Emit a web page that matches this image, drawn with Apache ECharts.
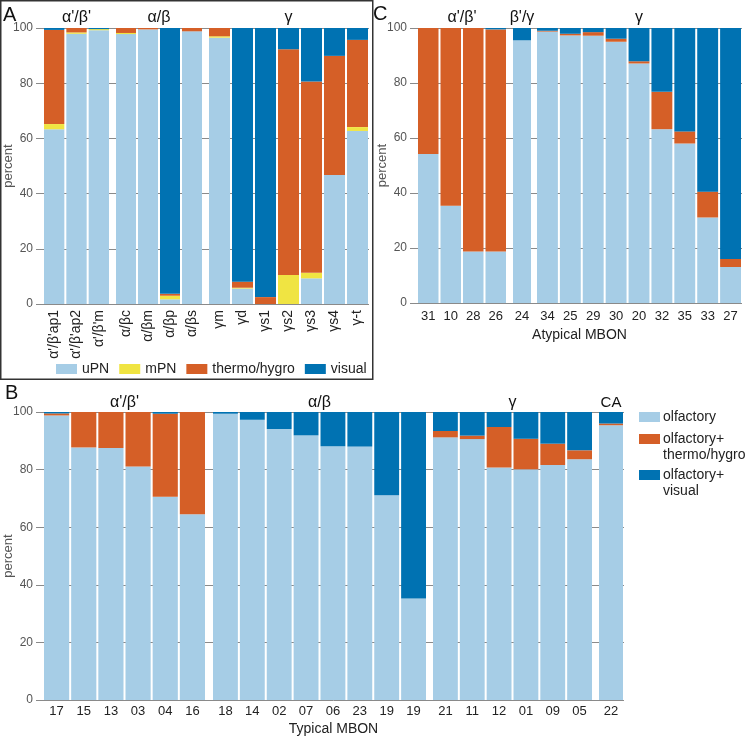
<!DOCTYPE html>
<html>
<head>
<meta charset="utf-8">
<script src="https://cdn.jsdelivr.net/npm/echarts@6/dist/echarts.min.js"></script>
<style>html,body{margin:0;padding:0;background:#fff}#c{width:746px;height:738px}</style>
</head>
<body>
<div id="c"></div>
<script>
// ---------- Panel A data ----------
const aCats = ["α'/β'ap1","α'/β'ap2","α'/β'm","α/βc","α/βm","α/βp","α/βs","γm","γd","γs1","γs2","γs3","γs4","γ-t"];
const aGroupNames = ["α'/β'","α/β","γ"];
const aGroupSizes = [3,4,7];
const aUPN    = [63.3, 97.9, 99.2, 97.8, 99.5,  1.7, 98.8, 96.5,  5.6,  0.0,  0.0,  9.3, 46.7, 62.7];
const aMPN    = [ 1.9,  0.5,  0.4,  0.4,  0.0,  1.3,  0.0,  0.5,  0.3,  0.0, 10.5,  2.0,  0.0,  1.4];
const aThermo = [34.1,  1.6,  0.0,  1.8,  0.5,  0.7,  1.2,  3.0,  2.2,  2.5, 81.8, 69.3, 43.2, 31.6];
const aVisual = [ 0.7,  0.0,  0.4,  0.0,  0.0, 96.3,  0.0,  0.0, 91.9, 97.5,  7.7, 19.4, 10.1,  4.3];

// ---------- Panel C data ----------
const cCats = ["31","10","28","26","24","34","25","29","30","20","32","35","33","27"];
const cGroupNames = ["α'/β'","β'/γ","γ"];
const cGroupSizes = [4,1,9];
const cUPN    = [54.2, 35.4, 18.7, 18.7, 95.5, 98.7, 97.3, 97.2, 95.0, 87.1, 63.2, 58.0, 31.1, 13.1];
const cThermo = [45.8, 64.6, 81.3, 80.8,  0.0,  0.3,  0.6,  1.3,  1.1,  0.8, 13.6,  4.4,  9.4,  2.9];
const cVisual = [ 0.0,  0.0,  0.0,  0.5,  4.5,  1.0,  2.1,  1.5,  3.9, 12.1, 23.2, 37.6, 59.5, 84.0];

// ---------- Panel B data ----------
const bCats = ["17","15","13","03","04","16","18","14","02","07","06","23","19","19","21","11","12","01","09","05","22"];
const bGroupNames = ["α'/β'","α/β","γ","CA"];
const bGroupSizes = [6,8,6,1];
const bOlf    = [98.8, 87.7, 87.5, 81.1, 70.6, 64.5, 99.4, 97.3, 94.1, 91.9, 88.1, 88.0, 71.1, 35.2, 91.2, 90.6, 80.7, 80.1, 81.6, 83.6, 95.4];
const bThermo = [ 0.7, 12.3, 12.5, 18.9, 28.8, 35.5,  0.0,  0.0,  0.0,  0.0,  0.0,  0.0,  0.0,  0.0,  2.2,  1.2, 14.1, 10.6,  7.4,  3.1,  0.6];
const bVisual = [ 0.5,  0.0,  0.0,  0.0,  0.6,  0.0,  0.6,  2.7,  5.9,  8.1, 11.9, 12.0, 28.9, 64.8,  6.6,  8.2,  5.2,  9.3, 11.0, 13.3,  4.0];

const legendA = ["uPN","mPN","thermo/hygro","visual"];
const legendB = ["olfactory","olfactory+\nthermo/hygro","olfactory+\nvisual"];

// ---------- styling / layout ----------
const COL = {lb:'#a6cde6', ye:'#f0e442', or:'#d55f27', db:'#0072b2'};
const FONT = "'Liberation Sans', Arial, sans-serif";
const GRIDC = '#8a8a8a';

const panels = [
  { key:'A', top:28, height:276, bg:[43,326], groups:[[43,67],[115,88],[208,161]],
    cats:aCats, names:aGroupNames, sizes:aGroupSizes, titleY:18, yNameX:8,
    series:[['uPN',aUPN,COL.lb],['mPN',aMPN,COL.ye],['thermo/hygro',aThermo,COL.or],['visual',aVisual,COL.db]],
    rotate:90, labelSize:14, labelMargin:6, xName:'' },
  { key:'C', top:28, height:275, bg:[417,325], groups:[[417,90],[512,20],[536,206]],
    cats:cCats, names:cGroupNames, sizes:cGroupSizes, titleY:18, yNameX:382,
    series:[['uPN',cUPN,COL.lb],['thermo/hygro',cThermo,COL.or],['visual',cVisual,COL.db]],
    rotate:0, labelSize:13, labelMargin:7, xName:'Atypical MBON', xNameGap:25 },
  { key:'B', top:412, height:288, bg:[43,581], groups:[[43,163],[212,215],[432,161],[598,26]],
    cats:bCats, names:bGroupNames, sizes:bGroupSizes, titleY:403, yNameX:8,
    series:[[legendB[0],bOlf,COL.lb],[legendB[1],bThermo,COL.or],[legendB[2],bVisual,COL.db]],
    rotate:0, labelSize:13, labelMargin:5, xName:'Typical MBON', xNameGap:22 }
];

const grid=[], xAxis=[], yAxis=[], series=[], graphic=[];

panels.forEach(p=>{
  // background grid with y axis and split lines
  const gi = grid.length;
  grid.push({left:p.bg[0], top:p.top, width:p.bg[1], height:p.height, outerBoundsMode:'none', containLabel:false});
  xAxis.push({gridIndex:gi, type:'value', min:0, max:1, show:true,
    axisLine:{show:false}, axisTick:{show:false}, axisLabel:{show:false}, splitLine:{show:false},
    name:p.xName, nameLocation:'middle', nameGap:p.xNameGap||20,
    nameTextStyle:{fontSize:14, color:'#222', fontFamily:FONT}});
  yAxis.push({gridIndex:gi, type:'value', min:0, max:100, interval:20,
    axisLine:{show:false},
    axisTick:{show:true, length:7, lineStyle:{color:GRIDC}},
    axisLabel:{fontSize:12, color:'#555', margin:10, fontFamily:FONT},
    splitLine:{show:true, lineStyle:{color:GRIDC, width:1}}});
  // y axis title
  graphic.push({type:'text', x:p.yNameX, y:p.top+p.height/2, rotation:Math.PI/2,
    style:{text:'percent', fontSize:13, fill:'#555', fontFamily:FONT, textAlign:'center', textVerticalAlign:'middle'}});
  // group grids
  let start=0;
  p.groups.forEach((g,k)=>{
    const n = p.sizes[k];
    const cats = p.cats.slice(start, start+n);
    const idx = grid.length;
    grid.push({left:g[0], top:p.top, width:g[1], height:p.height, outerBoundsMode:'none', containLabel:false});
    xAxis.push({gridIndex:idx, type:'category', data:cats,
      axisLine:{show:false}, axisTick:{show:false}, splitLine:{show:false},
      axisLabel:{interval:0, rotate:p.rotate, fontSize:p.labelSize, color:'#222', margin:p.labelMargin, fontFamily:FONT}});
    yAxis.push({gridIndex:idx, type:'value', min:0, max:100, show:false});
    const bw = g[1]/n - 2;
    p.series.forEach(s=>{
      series.push({type:'bar', name:s[0], stack:p.key+k, xAxisIndex:idx, yAxisIndex:idx,
        barWidth:bw, data:s[1].slice(start,start+n), itemStyle:{color:s[2]},
        emphasis:{disabled:true}});
    });
    graphic.push({type:'text', x:g[0]+g[1]/2, y:p.titleY,
      style:{text:p.names[k], fontSize:p.names[k]==='CA'?15:16, fill:'#111', fontFamily:FONT,
             textAlign:'center', textVerticalAlign:'middle'}});
    start+=n;
  });
});

// panel A frame
graphic.push({type:'rect', shape:{x:0.75,y:0.75,width:372,height:378.5},
  style:{fill:'none', stroke:'#333', lineWidth:1.5}, z:10});
// panel letters
[['A',3,15],['C',373,14],['B',5,393]].forEach(l=>{
  graphic.push({type:'text', x:l[1], y:l[2], style:{text:l[0], fontSize:20, fill:'#111', fontFamily:FONT,
    textAlign:'left', textVerticalAlign:'middle'}});
});
// legend B
[[legendB[0],COL.lb,412],[legendB[1],COL.or,434],[legendB[2],COL.db,470]].forEach(it=>{
  graphic.push({type:'rect', shape:{x:639,y:it[2],width:21,height:10}, style:{fill:it[1]}});
  graphic.push({type:'text', x:663, y:it[2]-3, style:{text:it[0], fontSize:14, lineHeight:16, fill:'#222',
    fontFamily:FONT, textAlign:'left', textVerticalAlign:'top'}});
});

const chart = echarts.init(document.getElementById('c'), null, {renderer:'canvas'});
chart.setOption({
  animation:false,
  textStyle:{fontFamily:FONT},
  legend:{data:legendA, left:56, top:362, padding:0, itemWidth:21, itemHeight:10, itemGap:10, icon:'rect',
    textStyle:{fontSize:14, color:'#222', fontFamily:FONT}, selectedMode:false},
  grid, xAxis, yAxis, series, graphic
});
</script>
</body>
</html>
